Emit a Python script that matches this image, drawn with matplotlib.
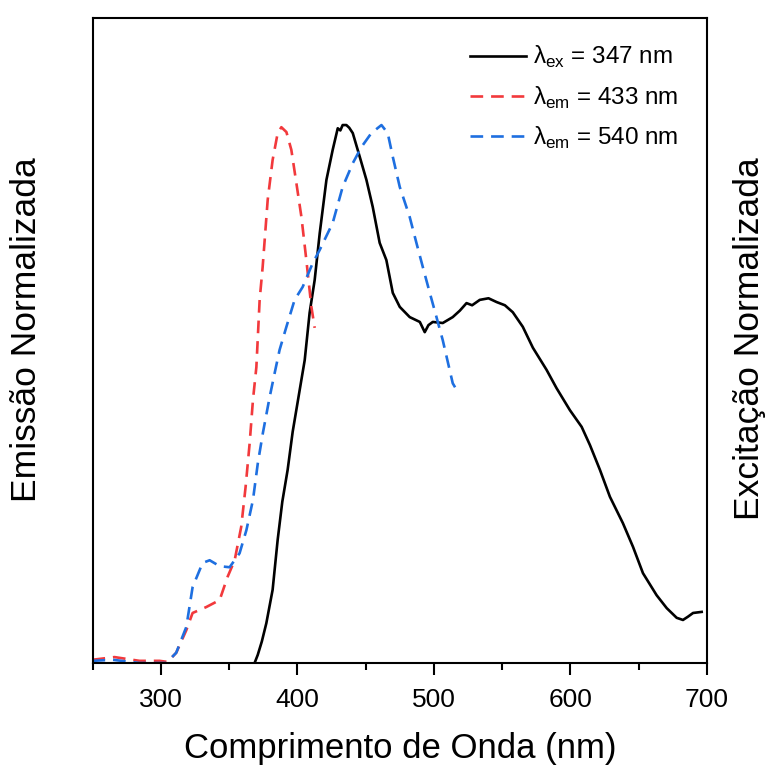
import numpy as np
import matplotlib
matplotlib.use('Agg')
from matplotlib import pyplot as plt

plt.rcParams['font.family'] = ['Liberation Sans', 'DejaVu Sans']
plt.rcParams['mathtext.fontset'] = 'custom'
plt.rcParams['mathtext.rm'] = 'Liberation Sans'

# excitation spectrum, lambda_ex = 347 nm
ex_wl = [368.7, 371.0, 374.0, 377.3, 381.9, 385.6, 389.0, 392.9, 396.6, 400.5,
         405.4, 409.0, 412.7, 416.4, 421.3, 425.9, 429.6, 431.5, 433.2, 435.9,
         438.0, 440.6, 445.7, 450.6, 455.2, 460.3, 465.2, 469.9, 475.0, 482.3,
         489.7, 493.3, 496.0, 499.2, 506.5, 513.8, 519.0, 523.9, 528.0, 533.6,
         540.0, 545.9, 552.0, 557.8, 565.1, 572.5, 582.5, 589.8, 599.6, 608.2,
         614.3, 621.6, 628.9, 638.4, 645.8, 653.1, 663.1, 670.5, 677.8, 682.4,
         686.0, 689.8, 696.1]
ex_y = [0.0, 0.015, 0.04, 0.074, 0.136, 0.229, 0.30, 0.359, 0.43, 0.489,
        0.563, 0.651, 0.712, 0.799, 0.898, 0.954, 0.994, 0.99, 1.0, 1.0,
        0.995, 0.985, 0.941, 0.898, 0.848, 0.781, 0.749, 0.688, 0.662, 0.643,
        0.634, 0.615, 0.628, 0.634, 0.632, 0.643, 0.655, 0.669, 0.665, 0.675,
        0.678, 0.671, 0.665, 0.652, 0.625, 0.586, 0.545, 0.511, 0.470, 0.439,
        0.405, 0.359, 0.309, 0.260, 0.216, 0.167, 0.126, 0.102, 0.084, 0.080,
        0.086, 0.093, 0.095]

# emission spectrum, lambda_em = 433 nm
em1_wl = [250.0, 266.1, 284.4, 299.1, 305.0, 311.3, 318.7, 323.3, 333.3, 343.1,
          348.9, 354.1, 358.9, 362.1, 365.1, 367.5, 370.0, 372.4, 374.6, 378.3,
          381.9, 385.6, 388.3, 392.0, 395.6, 399.3, 403.0, 406.6, 410.3, 412.7]
em1_y = [0.006, 0.011, 0.004, 0.004, 0.002, 0.019, 0.061, 0.093, 0.104, 0.117,
         0.160, 0.191, 0.253, 0.327, 0.409, 0.489, 0.550, 0.675, 0.736, 0.861,
         0.935, 0.985, 0.996, 0.987, 0.954, 0.892, 0.829, 0.749, 0.662, 0.623]

# emission spectrum, lambda_em = 540 nm
em2_wl = [250.0, 264.7, 284.4, 304.0, 311.3, 318.7, 323.3, 330.6, 335.8, 343.1,
          350.4, 357.7, 362.7, 367.5, 371.1, 374.8, 379.7, 383.4, 387.0, 392.0,
          398.0, 403.9, 411.2, 416.4, 425.9, 433.2, 440.6, 446.9, 454.2, 461.6,
          466.2, 469.9, 475.0, 482.3, 487.2, 491.9, 497.0, 501.9, 506.5, 513.8,
          516.8]
em2_y = [0.004, 0.006, 0.0, 0.0, 0.019, 0.067, 0.141, 0.186, 0.191, 0.180,
         0.178, 0.204, 0.247, 0.303, 0.372, 0.428, 0.494, 0.539, 0.582, 0.625,
         0.675, 0.699, 0.743, 0.768, 0.818, 0.885, 0.929, 0.959, 0.985, 1.0,
         0.985, 0.941, 0.885, 0.829, 0.781, 0.736, 0.688, 0.643, 0.600, 0.520,
         0.507]

fig = plt.figure(figsize=(7.68, 7.70), dpi=100)
ax = fig.add_axes([92.5 / 768, 107 / 770, 614.5 / 768, 645 / 770])

ax.plot(ex_wl, ex_y, '-', color='black', lw=1.9, label=r'λ$_{\mathrm{ex}}$ = 347 nm')
ax.plot(em1_wl, em1_y, '--', color='#f2393c', lw=1.9, dashes=(4.8, 3.0),
        label=r'λ$_{\mathrm{em}}$ = 433 nm')
ax.plot(em2_wl, em2_y, '--', color='#1e6fe0', lw=1.9, dashes=(4.8, 3.0),
        label=r'λ$_{\mathrm{em}}$ = 540 nm')

ax.set_xlim(250, 700)
ax.set_ylim(0, 1.199)
ax.set_xticks([300, 400, 500, 600, 700])
ax.set_xticks([250, 350, 450, 550, 650], minor=True)
ax.set_yticks([])
ax.tick_params(axis='x', which='major', direction='out', length=8.6, width=1.5,
               labelsize=19, pad=9.5)
ax.tick_params(axis='x', which='minor', direction='out', length=4.7, width=1.5)
for s in ax.spines.values():
    s.set_linewidth(1.5)

ax.set_xlabel('Comprimento de Onda (nm)', fontsize=25, labelpad=14.5)
fig.text(27 / 768, 1 - 330 / 770, 'Emissão Normalizada', fontsize=25.5,
         rotation=90, ha='center', va='center')
fig.text(750 / 768, 1 - 339 / 770, 'Excitação Normalizada', fontsize=25.5,
         rotation=90, ha='center', va='center')

leg = ax.legend(loc='upper right', frameon=False, fontsize=17.5, handlelength=2.3,
                handletextpad=0.3, labelspacing=0.58, borderaxespad=0.6,
                bbox_to_anchor=(0.993, 0.997))

fig.savefig('out.png', dpi=100)
